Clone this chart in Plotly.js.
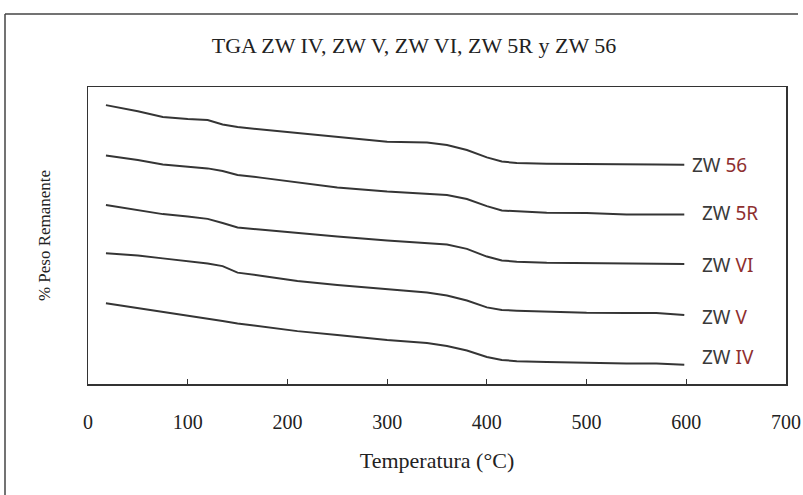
<!DOCTYPE html>
<html>
<head>
<meta charset="utf-8">
<script src="https://cdn.plot.ly/plotly-3.0.1.min.js"></script>
<style>html,body{margin:0;padding:0;background:#fff;}#chart{width:803px;height:495px;}</style>
</head>
<body>
<div id="chart"></div>
<script>
// Temperature grid (°C)
const temperature = [18, 50, 75, 100, 120, 135, 150, 175, 210, 250, 300, 340, 360, 380, 400, 415, 430, 460, 500, 540, 570, 598];

// Curves (vertically offset, arbitrary % units as drawn)
const zw56 = [93.9, 91.8, 89.9, 89.2, 88.9, 87.4, 86.5, 85.7, 84.7, 83.3, 81.6, 81.3, 80.5, 78.8, 76.3, 74.9, 74.4, 74.2, 74.0, 73.9, 73.9, 73.8];
const zw5R = [76.9, 75.4, 73.9, 73.2, 72.6, 71.7, 70.4, 69.4, 67.8, 66.2, 64.8, 64.1, 63.6, 62.3, 59.9, 58.4, 58.1, 57.7, 57.6, 57.1, 57.1, 57.1];
const zwVI = [60.3, 58.6, 57.2, 56.4, 55.6, 54.2, 52.7, 51.9, 50.8, 49.7, 48.3, 47.6, 47.0, 45.5, 42.9, 41.6, 41.2, 40.8, 40.7, 40.4, 40.4, 40.4];
const zwV  = [44.0, 43.3, 42.3, 41.4, 40.6, 39.7, 37.5, 36.4, 34.7, 33.3, 31.8, 30.8, 29.8, 28.1, 25.8, 24.9, 24.7, 24.4, 24.0, 23.9, 23.9, 23.2];
const zwIV = [27.2, 25.6, 24.2, 23.2, 22.1, 21.2, 20.4, 19.4, 17.8, 16.5, 14.8, 13.8, 12.8, 11.3, 9.1, 8.1, 7.7, 7.4, 7.1, 6.9, 6.9, 6.5];

const seriesNames = ["ZW 56", "ZW 5R", "ZW VI", "ZW V", "ZW IV"];
const seriesValues = [zw56, zw5R, zwVI, zwV, zwIV];
const labelPrefix = ["ZW", "ZW", "ZW", "ZW", "ZW"];
const labelSuffix = ["56", "5R", "VI", "V", "IV"];
const labelX = [604, 614, 614, 614, 614];
const labelY = [73.7, 57.6, 40.1, 22.6, 9.1];

const xTicks = [0, 100, 200, 300, 400, 500, 600, 700];

const serif = "Liberation Serif, Times New Roman, serif";

const traces = seriesValues.map((v, i) => ({
  x: temperature, y: v, name: seriesNames[i], type: "scatter", mode: "lines",
  line: {color: "#353535", width: 2}, hoverinfo: "x+y+name"
}));

const annotations = seriesNames.map((n, i) => ({
  x: labelX[i], y: labelY[i], xref: "x", yref: "y", xanchor: "left", yanchor: "middle",
  showarrow: false,
  text: labelPrefix[i] + " <span style='color:#8e2f2f'>" + labelSuffix[i] + "</span>",
  font: {family: "Noto Sans, DejaVu Sans, sans-serif", size: 19, color: "#3a3a3a"}
}));

const layout = {
  width: 803, height: 495,
  margin: {l: 88, r: 17, t: 87, b: 111, pad: 0},
  paper_bgcolor: "#ffffff", plot_bgcolor: "#ffffff",
  showlegend: false,
  title: {
    text: "TGA ZW IV, ZW V, ZW VI, ZW 5R y ZW 56",
    x: (414 - 88) / 698, xref: "paper", xanchor: "center",
    y: 1 - 45/495, yref: "container", yanchor: "middle",
    font: {family: serif, size: 22, color: "#222"}
  },
  xaxis: {
    range: [0, 700], tickvals: xTicks, ticktext: xTicks.map(String),
    ticks: "inside", ticklen: 5, tickcolor: "#333",
    showline: true, linecolor: "#333", linewidth: 1.5, mirror: true,
    showgrid: false, zeroline: false,
    ticklabelstandoff: 19,
    tickfont: {family: serif, size: 20, color: "#222"},
    title: {text: "Temperatura (°C)", standoff: 21, font: {family: serif, size: 22, color: "#222"}},
    automargin: false, fixedrange: true
  },
  yaxis: {
    range: [0, 100], showticklabels: false, ticks: "",
    showline: true, linecolor: "#333", linewidth: 1.5, mirror: true,
    showgrid: false, zeroline: false,
    title: {text: "% Peso Remanente", standoff: 31, font: {family: serif, size: 17, color: "#222"}},
    automargin: false, fixedrange: true
  },
  annotations: annotations,
  shapes: [
    {type: "line", xref: "paper", yref: "paper", x0: -83/698, x1: 710/698, y0: 370/297, y1: 370/297, line: {color: "#444", width: 1.5}},
    {type: "line", xref: "paper", yref: "paper", x0: -83/698, x1: -83/698, y0: 370/297, y1: -120/297, line: {color: "#444", width: 1.5}}
  ]
};

Plotly.newPlot("chart", traces, layout, {displayModeBar: false, staticPlot: true});
</script>
</body>
</html>
